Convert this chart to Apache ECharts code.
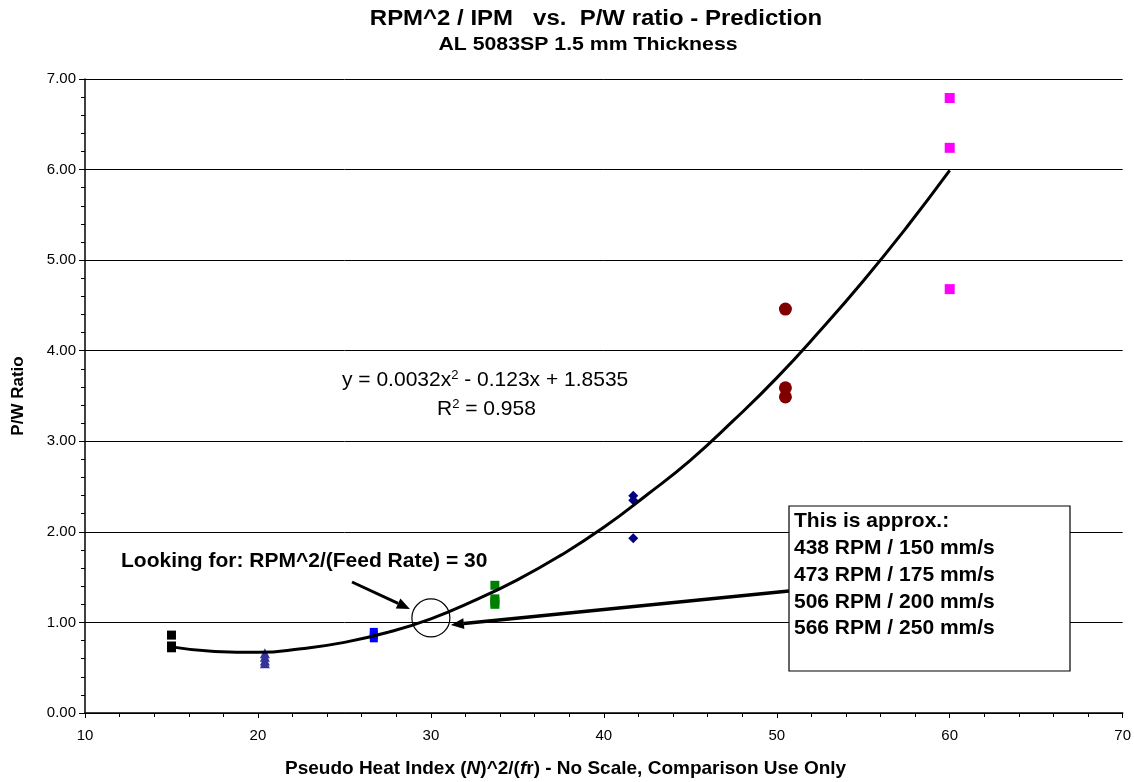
<!DOCTYPE html>
<html><head><meta charset="utf-8">
<script src="https://cdn.jsdelivr.net/npm/echarts@6/dist/echarts.min.js"></script>
<style>html,body{margin:0;padding:0;background:#fff}#c{width:1134px;height:782px}</style>
</head><body><div id="c"></div>
<script>
// ---- data ----
const blackX = [15, 15, 15, 15];
const blackY = [0.86, 0.74, 0.72, 0.73];
const triX = [20.4, 20.4, 20.4, 20.4];
const triY = [0.66, 0.62, 0.58, 0.55];
const blueX = [26.7, 26.7, 26.7];
const blueY = [0.89, 0.86, 0.83];
const greenX = [33.7, 33.7, 33.7, 33.7];
const greenY = [1.41, 1.26, 1.23, 1.20];
const navyX = [41.7, 41.7, 41.7];
const navyY = [2.40, 2.35, 1.93];
const redX = [50.5, 50.5, 50.5];
const redY = [4.46, 3.59, 3.49];
const magX = [60, 60, 60];
const magY = [6.79, 6.24, 4.68];
const trendX = [15, 17.5, 20, 22.5, 25, 27.5, 30, 32.5, 35, 37.5, 40, 42.5, 45, 47.5, 50, 52.5, 55, 57.5, 60];
const trendY = [0.73, 0.68, 0.67, 0.71, 0.78, 0.89, 1.04, 1.24, 1.47, 1.74, 2.05, 2.41, 2.79, 3.23, 3.70, 4.22, 4.77, 5.36, 5.99];
const yTicks = ['0.00','1.00','2.00','3.00','4.00','5.00','6.00','7.00'];
const boxLines = ['This is approx.:', '438 RPM / 150 mm/s', '473 RPM / 175 mm/s', '506 RPM / 200 mm/s', '566 RPM / 250 mm/s'];
const titleText = 'RPM^2 / IPM   vs.  P/W ratio - Prediction';
const subtitleText = 'AL 5083SP 1.5 mm Thickness';
const xName = 'Pseudo Heat Index ({it|N})^2/({it|f}r) - No Scale, Comparison Use Only';
const targetX = 30, targetY = 1.05;

const zip = (xs, ys) => xs.map((x, i) => [x, ys[i]]);
const FONT = 'Liberation Sans, Arial, sans-serif';

const chart = echarts.init(document.getElementById('c'));
function sc(name, xs, ys, symbol, size, color) {
  return { name, type: 'scatter', data: zip(xs, ys), symbol, symbolSize: size,
    itemStyle: { color, opacity: 1 }, z: 3 };
}
chart.setOption({
  animation: false,
  textStyle: { fontFamily: FONT },
  grid: { left: 85, right: 11, top: 79, bottom: 69 },
  xAxis: {
    type: 'value', min: 10, max: 70, interval: 10,
    axisLine: { onZero: false, lineStyle: { color: '#000', width: 1.5 } },
    axisTick: { show: true, length: 5, lineStyle: { color: '#000' } },
    minorTick: { show: true, splitNumber: 5, length: 4, lineStyle: { color: '#000' } },
    splitLine: { show: false },
    axisLabel: { color: '#000', fontSize: 15, margin: 15, fontFamily: FONT }
  },
  yAxis: {
    type: 'value', min: 0, max: 7, interval: 1,
    axisLine: { show: true, lineStyle: { color: '#000', width: 1.5 } },
    axisTick: { show: true, length: 6, lineStyle: { color: '#000' } },
    minorTick: { show: true, splitNumber: 5, length: 4, lineStyle: { color: '#000' } },
    splitLine: { show: true, lineStyle: { color: '#000', width: 1 } },
    axisLabel: { color: '#000', fontSize: 15, margin: 9, fontFamily: FONT,
      formatter: (v) => yTicks[Math.round(v)] },
    name: 'P/W Ratio', nameLocation: 'middle', nameGap: 58, nameRotate: 90,
    nameTextStyle: { fontSize: 17, fontWeight: 'bold', color: '#000', fontFamily: FONT }
  },
  series: [
    { name: 'trend', type: 'line', data: zip(trendX, trendY), smooth: true, symbol: 'none',
      lineStyle: { color: '#000', width: 3 }, z: 4 },
    sc('a', blackX, blackY, 'rect', 9, '#000000'),
    sc('b', triX, triY, 'triangle', 10, '#333399'),
    sc('c', blueX, blueY, 'rect', [8, 9], '#0000FF'),
    sc('d', greenX, greenY, 'rect', [9, 9], '#008000'),
    sc('e', navyX, navyY, 'diamond', 10, '#000080'),
    sc('f', redX, redY, 'circle', 13, '#800000'),
    sc('g', magX, magY, 'rect', 10, '#FF00FF')
  ]
});

function arrow(x1, y1, x2, y2, w) {
  const ang = Math.atan2(y2 - y1, x2 - x1);
  const L = 13, H = 5.5;
  const bx = x2 - L * Math.cos(ang), by = y2 - L * Math.sin(ang);
  const px = -Math.sin(ang) * H, py = Math.cos(ang) * H;
  return [
    { type: 'line', shape: { x1, y1, x2: bx, y2: by }, style: { stroke: '#000', lineWidth: w }, z: 10 },
    { type: 'polygon', shape: { points: [[x2, y2], [bx + px, by + py], [bx - px, by - py]] },
      style: { fill: '#000' }, z: 10 }
  ];
}

const c = chart.convertToPixel({ gridIndex: 0 }, [targetX, targetY]);
const r = 19;
const boxL = 789, boxT = 506, boxW = 281, boxH = 165;
const sup = { fontSize: 13, verticalAlign: 'top', fill: '#000', fontFamily: FONT, padding: [0, 0, 9, 0] };
const elems = [
  { type: 'text', x: 596, y: 19, scaleX: 1.09, z: 12,
    style: { text: titleText, fontSize: 22, fontWeight: 'bold', fill: '#000', fontFamily: FONT, align: 'center', verticalAlign: 'middle' } },
  { type: 'text', x: 588, y: 45, scaleX: 1.15, z: 12,
    style: { text: subtitleText, fontSize: 18.5, fontWeight: 'bold', fill: '#000', fontFamily: FONT, align: 'center', verticalAlign: 'middle' } },
  { type: 'text', x: 285, y: 769, z: 12,
    style: { text: xName, fontSize: 19, fontWeight: 'bold', fill: '#000', fontFamily: FONT, align: 'left', verticalAlign: 'middle',
      rich: { it: { fontSize: 19, fontWeight: 'bold', fontStyle: 'italic', fill: '#000', fontFamily: FONT } } } },
  { type: 'circle', shape: { cx: c[0], cy: c[1], r }, style: { fill: 'rgba(0,0,0,0)', stroke: '#000', lineWidth: 1.2 }, z: 10 },
  ...arrow(352, 582, c[0] - 21, c[1] - 9, 3),
  ...arrow(boxL, 591, c[0] + r + 1, c[1] + 7, 3.5),
  { type: 'rect', shape: { x: boxL, y: boxT, width: boxW, height: boxH },
    style: { fill: '#fff', stroke: '#000', lineWidth: 1.2 }, z: 11 },
  { type: 'text', left: boxL + 5, top: boxT + 2, z: 12,
    style: { text: boxLines.join('\n'), fontSize: 21, fontWeight: 'bold', fill: '#000', lineHeight: 26.8, fontFamily: FONT } },
  { type: 'text', left: 121, top: 551, z: 12,
    style: { text: 'Looking for: RPM^2/(Feed Rate) = 30', fontSize: 21, fontWeight: 'bold', fill: '#000', fontFamily: FONT } },
  { type: 'text', left: 342, top: 369, z: 12,
    style: { text: 'y = 0.0032x{s|2} - 0.123x + 1.8535', fontSize: 21, fill: '#000', fontFamily: FONT, rich: { s: sup } } },
  { type: 'text', left: 437, top: 398, z: 12,
    style: { text: 'R{s|2} = 0.958', fontSize: 21, fill: '#000', fontFamily: FONT, rich: { s: sup } } }
];
chart.setOption({ graphic: { elements: elems } });
</script></body></html>
